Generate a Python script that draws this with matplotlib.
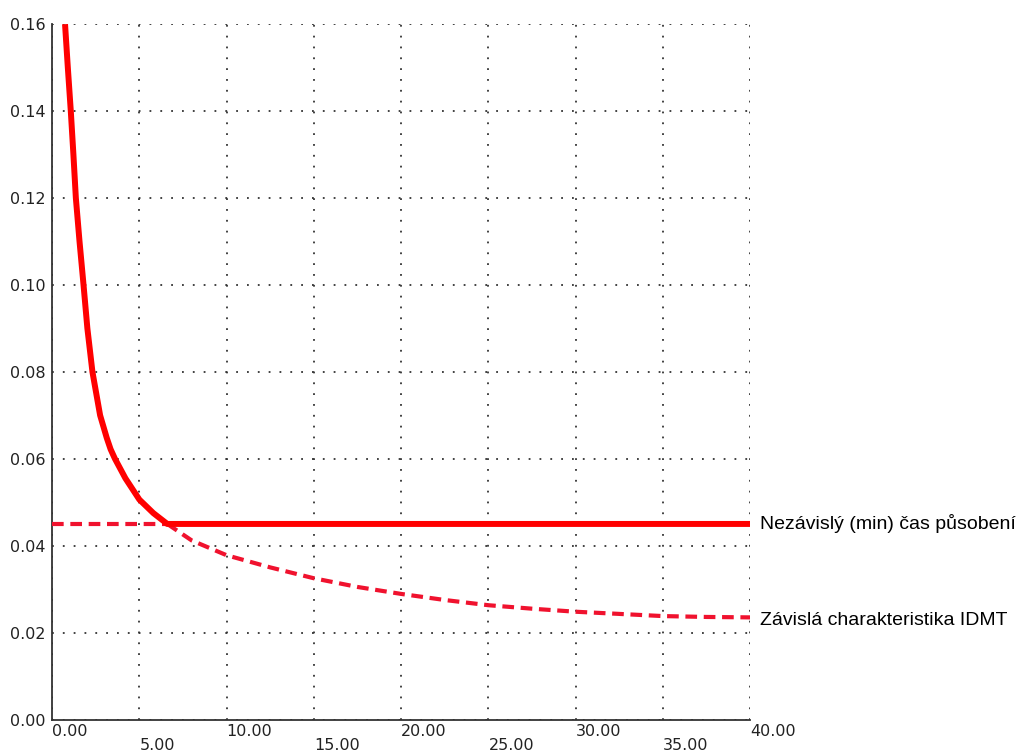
import numpy as np
import matplotlib
matplotlib.use("Agg")
import matplotlib.pyplot as plt

# values
idmt_x = [0.74, 0.9, 1.07, 1.22, 1.36, 1.57, 1.8, 2.02, 2.31, 2.75, 3.13, 3.35, 3.6, 4.2, 5.0, 5.8, 6.6,
          8.0, 10.0, 12.5, 15.0, 17.5, 20.0, 22.5, 25.0, 27.5, 30.0, 32.5, 35.0, 37.5, 40.0]
idmt_y = [0.16, 0.15, 0.14, 0.13, 0.12, 0.11, 0.10, 0.09, 0.08, 0.07, 0.0648, 0.0622, 0.060, 0.0555, 0.0506, 0.0475, 0.045,
          0.0412, 0.0378, 0.035, 0.0325, 0.0305, 0.0289, 0.0275, 0.0263, 0.0255, 0.0248, 0.0243, 0.0238, 0.0236, 0.0235]
dt_level = 0.045
x_cross = 6.6

x_major = [0, 10, 20, 30, 40]
x_minor = [5, 15, 25, 35]
y_ticks = [0.0, 0.02, 0.04, 0.06, 0.08, 0.10, 0.12, 0.14, 0.16]

label_dt = "Nezávislý (min) čas působení"
label_idmt = "Závislá charakteristika IDMT"

ix = np.array(idmt_x)
iy = np.array(idmt_y)
up = ix <= x_cross
down = ix >= x_cross

fig = plt.figure(figsize=(10.22, 7.55), dpi=100)
ax = fig.add_axes([0.051, 0.047, 0.683, 0.921])

grid_kw = dict(color="#333333", linewidth=1.3, linestyle=(0, (1, 5.0)))
ax.grid(True, which="both", axis="x", **grid_kw)
ax.grid(True, which="major", axis="y", **grid_kw)

red = "#ff0000"
red_d = "#f0122e"

# solid: IDMT above the crossing, then definite time level
ax.plot(np.r_[ix[up], 40.0], np.r_[iy[up], dt_level], color=red, lw=4.3,
        solid_capstyle="butt", solid_joinstyle="round", zorder=4)
# dashed: definite time level left of crossing, IDMT below it
ax.plot([0.0, x_cross], [dt_level, dt_level], color=red_d, lw=3.0,
        linestyle=(0, (2.8, 1.6)), zorder=3)
ax.plot(ix[down], iy[down], color=red_d, lw=3.0,
        linestyle=(0, (2.8, 1.6)), zorder=3)

ax.set_xlim(0, 40)
ax.set_ylim(0, 0.16)
ax.set_xticks(x_major)
ax.set_xticks(x_minor, minor=True)
ax.set_xticklabels(["%.2f" % v for v in x_major])
ax.set_xticklabels(["%.2f" % v for v in x_minor], minor=True)
ax.set_yticks(y_ticks)
ax.set_yticklabels(["%.2f" % v for v in y_ticks])

ax.tick_params(axis="x", which="major", length=0, pad=3, labelsize=11.5, colors="#222222")
ax.tick_params(axis="x", which="minor", length=0, pad=13, labelsize=11.5, colors="#222222")
ax.tick_params(axis="y", length=0, pad=5, labelsize=11.5, colors="#222222")
for lab in ax.get_xticklabels() + ax.get_xticklabels(minor=True):
    lab.set_ha("left")

for s in ["top", "right"]:
    ax.spines[s].set_visible(False)
for s in ["left", "bottom"]:
    ax.spines[s].set_color("#333333")
    ax.spines[s].set_linewidth(1.3)

ax.annotate(label_dt, xy=(40, dt_level), xytext=(7, 0), textcoords="offset points",
            va="center", ha="left", fontsize=14, family="Liberation Sans", annotation_clip=False)
ax.annotate(label_idmt, xy=(40, iy[-1]), xytext=(7, -2), textcoords="offset points",
            va="center", ha="left", fontsize=14, family="Liberation Sans", annotation_clip=False)

fig.savefig("out.png", dpi=100)
